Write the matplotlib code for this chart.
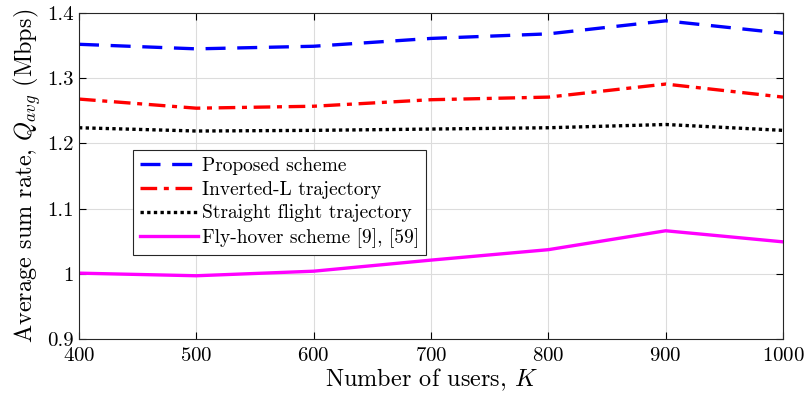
import numpy as np
import matplotlib
matplotlib.use('Agg')
import matplotlib.pyplot as plt

plt.rcParams['font.family'] = 'cmr10'
plt.rcParams['mathtext.fontset'] = 'cm'
plt.rcParams['axes.formatter.use_mathtext'] = True

users = [400, 500, 600, 700, 800, 900, 1000]
proposed = [1.352, 1.345, 1.349, 1.361, 1.368, 1.388, 1.369]
inverted_l = [1.268, 1.254, 1.257, 1.267, 1.271, 1.291, 1.271]
straight = [1.224, 1.219, 1.220, 1.222, 1.224, 1.229, 1.220]
fly_hover = [1.001, 0.997, 1.004, 1.021, 1.037, 1.066, 1.049]

fig = plt.figure(figsize=(8.07, 4.03), dpi=100)
ax = fig.add_axes([79/807, (403-339)/403, 704/807, 326/403])

lw = 2.4
ax.plot(users, proposed, color='#0000ff', linewidth=lw, dashes=(6, 3.5), label='Proposed scheme')
ax.plot(users, inverted_l, color='#ff0000', linewidth=lw, dashes=(5, 2, 1.5, 2), label='Inverted-L trajectory')
ax.plot(users, straight, color='black', linewidth=lw, dashes=(1, 1), label='Straight flight trajectory')
ax.plot(users, fly_hover, color='#ff00ff', linewidth=lw, label='Fly-hover scheme [9], [59]')

ax.set_xlim(400, 1000)
ax.set_ylim(0.9, 1.4)
ax.set_xticks(users)
ax.set_yticks([0.9, 1.0, 1.1, 1.2, 1.3, 1.4])
ax.set_yticklabels(['0.9', '1', '1.1', '1.2', '1.3', '1.4'])
ax.tick_params(direction='in', top=True, right=True, labelsize=15, length=5, width=0.8)
ax.tick_params(axis='x', pad=6)
ax.tick_params(axis='y', pad=4)
ax.grid(True, color='#dcdcdc', linewidth=0.8)
ax.set_axisbelow(True)
for s in ax.spines.values():
    s.set_linewidth(0.8)
    s.set_color('#262626')

ax.set_xlabel(r'Number of users, $K$', fontsize=17.5, labelpad=1)
ax.set_ylabel(r'Average sum rate, $Q_{avg}$ (Mbps)', fontsize=17.5, labelpad=3)

leg = ax.legend(loc='upper left', bbox_to_anchor=(0.077, 0.58), fontsize=14, frameon=True,
                fancybox=False, edgecolor='#262626', framealpha=1, handlelength=3.0,
                handletextpad=0.2, borderpad=0.35, labelspacing=0.3, borderaxespad=0)
leg.get_frame().set_linewidth(0.8)

fig.savefig('out.png', dpi=100)
